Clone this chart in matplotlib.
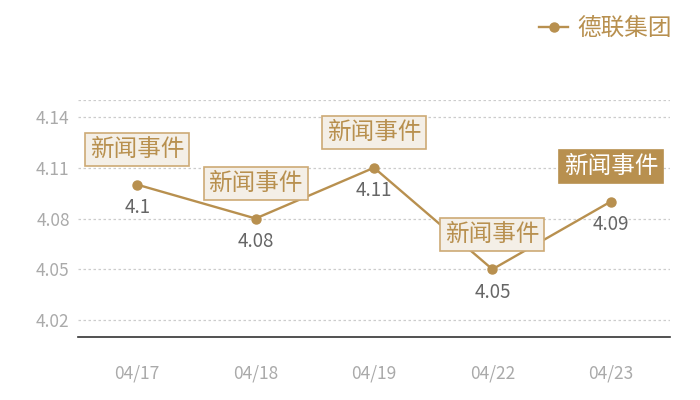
import matplotlib
matplotlib.use("Agg")
import matplotlib.pyplot as plt

plt.rcParams['font.family'] = ['Noto Sans CJK SC', 'DejaVu Sans']

dates = ['04/17', '04/18', '04/19', '04/22', '04/23']
values = [4.10, 4.08, 4.11, 4.05, 4.09]
value_labels = ['4.1', '4.08', '4.11', '4.05', '4.09']
event_text = '新闻事件'
series_name = '德联集团'
y_ticks = [4.02, 4.05, 4.08, 4.11, 4.14]

gold = '#b8904f'

fig = plt.figure(figsize=(7, 4), dpi=100)
ax = fig.add_axes([78 / 700, 63 / 400, 592 / 700, 237 / 400])

x = list(range(len(dates)))
line, = ax.plot(x, values, color=gold, lw=1.7, marker='o', markersize=6.5,
                zorder=3, label=series_name)

ax.set_xlim(-0.5, len(dates) - 0.5)
ax.set_ylim(4.01, 4.15)
ax.set_yticks(y_ticks)
ax.set_yticklabels([f'{t:.2f}' for t in y_ticks])
ax.set_xticks(x)
ax.set_xticklabels(dates)

for t in y_ticks + [4.15]:
    ax.axhline(t, color='#cccccc', lw=0.9, ls=(0, (2, 2)), zorder=1)

for s in ['top', 'right', 'left']:
    ax.spines[s].set_visible(False)
ax.spines['bottom'].set_color('#333333')
ax.spines['bottom'].set_linewidth(1.2)
ax.tick_params(length=0)
ax.tick_params(axis='y', colors='#aaaaaa', labelsize=12.5, pad=6)
ax.tick_params(axis='x', colors='#aaaaaa', labelsize=12.5, pad=20)

# value labels below points
for i, v in enumerate(values):
    ax.annotate(value_labels[i], xy=(i, v), xytext=(0, -23), textcoords='offset pixels',
                ha='center', va='center', color='#666666', fontsize=13.5, zorder=4)

# event boxes above points
for i, v in enumerate(values):
    last = i == len(values) - 1
    face = gold if last else '#f4efe7'
    edge = gold if last else '#cdaa75'
    tc = 'white' if last else gold
    ax.annotate(event_text, xy=(i, v), xytext=(0, 35), textcoords='offset pixels',
                ha='center', va='center', color=tc, fontsize=17,
                bbox=dict(boxstyle='square,pad=0.2', fc=face, ec=edge, lw=1.2),
                zorder=5)

fig.legend(handles=[line], loc='upper right', bbox_to_anchor=(0.99, 1.01),
           frameon=False, fontsize=17, labelcolor=gold, handlelength=1.2,
           handletextpad=0.4)

fig.savefig('out.png', dpi=100)
